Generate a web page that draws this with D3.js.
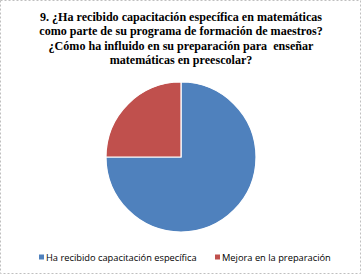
<!DOCTYPE html>
<html>
<head>
<meta charset="UTF-8">
<title></title>
<style>
    body { margin: 0; background: #fff; }
</style>
</head>
<body>
<div id="chart"></div>
<script src="https://cdn.jsdelivr.net/npm/d3@7/dist/d3.min.js"></script>
<script>
    // datos
    var categories = ["Ha recibido capacitación específica", "Mejora en la preparación"];
    var values = [75, 25];
    var colors = ["#4F81BD", "#C0504D"];
    var titleLines = [
        "9. ¿Ha recibido capacitación específica en matemáticas",
        "como parte de su programa de formación de maestros?",
        "¿Cómo ha influido en su preparación para  enseñar",
        "matemáticas en preescolar?"
    ];

    var width = 363, height = 276;
    var svg = d3.select("#chart").append("svg")
        .attr("width", width).attr("height", height);

    // borde
    svg.append("rect")
        .attr("x", 0.5).attr("y", 0.5)
        .attr("width", width - 3).attr("height", height - 3)
        .attr("fill", "#fff")
        .attr("stroke", "#bfbfbf")
        .attr("stroke-dasharray", "2,2");

    // titulo (fuente condensada: se ajusta el ancho a la primera linea)
    var title = svg.append("g").selectAll("text")
        .data(titleLines)
        .join("text")
        .attr("x", 181)
        .attr("y", function (d, i) { return 21 + i * 14.4; })
        .attr("text-anchor", "middle")
        .attr("font-family", "Liberation Serif")
        .attr("font-weight", "bold")
        .attr("font-size", 12.5)
        .attr("fill", "#000")
        .style("white-space", "pre")
        .text(function (d) { return d; });
    var ratio = 282 / title.node().getComputedTextLength();
    title.each(function () {
        var w = this.getComputedTextLength();
        d3.select(this).attr("textLength", w * ratio).attr("lengthAdjust", "spacingAndGlyphs");
    });

    // pastel
    var data = categories.map(function (c, i) { return { name: c, value: values[i], color: colors[i] }; });
    var pie = d3.pie().sort(null).value(function (d) { return d.value; });
    var arc = d3.arc().innerRadius(0).outerRadius(75);
    var g = svg.append("g").attr("transform", "translate(181,157)");
    g.selectAll("path")
        .data(pie(data))
        .join("path")
        .attr("d", arc)
        .attr("fill", function (d) { return d.data.color; })
        .attr("stroke", "#fff")
        .attr("stroke-width", 1.2);

    // leyenda
    var legendX = [39, 215];
    var legend = svg.append("g").selectAll("g")
        .data(data)
        .join("g")
        .attr("transform", function (d, i) { return "translate(" + legendX[i] + ",257)"; });
    legend.append("rect")
        .attr("x", 0).attr("y", -2.5)
        .attr("width", 5).attr("height", 5)
        .attr("fill", function (d) { return d.color; });
    legend.append("text")
        .attr("x", 7)
        .attr("y", 3.5)
        .attr("font-family", "Open Sans")
        .attr("font-size", 9.3)
        .attr("fill", "#000")
        .text(function (d) { return d.name; });
</script>
</body>
</html>
